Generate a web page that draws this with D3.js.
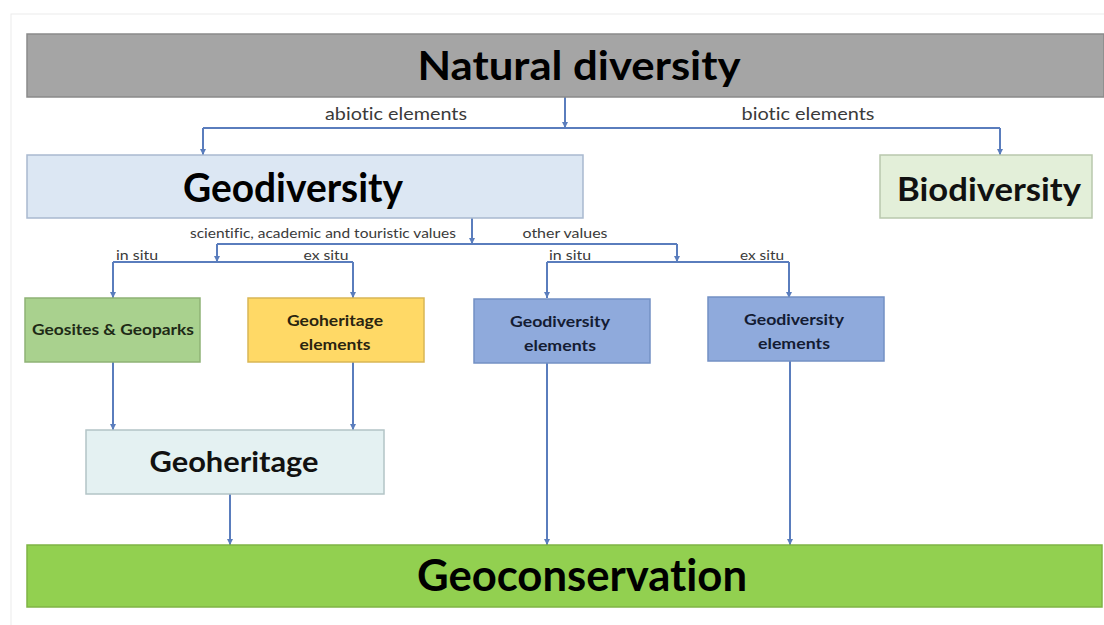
<!DOCTYPE html>
<html>
<head>
<meta charset="utf-8">
<script src="https://cdn.jsdelivr.net/npm/d3@7"></script>
<style>
  html, body { margin: 0; padding: 0; background: #fff; }
  svg { display: block; }
  text { font-variant-ligatures: none; font-feature-settings: "liga" 0, "dlig" 0; }
</style>
</head>
<body>
<div id="chart"></div>
<script>
// Node labels (one line per entry)
const nodeIds = ["nature", "geo", "bio", "sites", "herElem", "divIn", "divEx", "heritage", "conserv"];
const nodeLabels = [
    ["Natural diversity"],
    ["Geodiversity"],
    ["Biodiversity"],
    ["Geosites & Geoparks"],
    ["Geoheritage", "elements"],
    ["Geodiversity", "elements"],
    ["Geodiversity", "elements"],
    ["Geoheritage"],
    ["Geoconservation"]
];

// Branch connectors: parent -> children, with the labels on each branch
const branchParents = ["nature", "geo", "geoSci", "geoOther"];
const branchChildren = [["geo", "bio"], ["geoSci", "geoOther"], ["sites", "herElem"], ["divIn", "divEx"]];
const branchLabels = [
    ["abiotic elements", "biotic elements"],
    ["scientific, academic and touristic values", "other values"],
    ["in situ", "ex situ"],
    ["in situ", "ex situ"]
];

// Straight flows into the lower boxes
const flowSources = ["sites", "herElem", "heritage", "divIn", "divEx"];
const flowTargets = ["heritage", "heritage", "conserv", "conserv", "conserv"];

// ---- layout (pixels) ----
const width = 1104, height = 625;
// tx: text centre, ty: vertical nudge, tl: text lengths per line
const layout = {
    nature:   { x: 27,  y: 34,  w: 1077, h: 63, fill: "#a5a5a5", stroke: "#8a8a8a", size: 40, color: "#000", tx: 579, ty: 0, tl: [323] },
    geo:      { x: 27,  y: 155, w: 556,  h: 63, fill: "#dce7f3", stroke: "#a9b9cf", size: 41, color: "#000", tx: 293, ty: 1, tl: [220] },
    bio:      { x: 880, y: 155, w: 212,  h: 63, fill: "#e3efd9", stroke: "#b9c8ad", size: 33, color: "#111", tx: 989, ty: 3, tl: [184] },
    sites:    { x: 25,  y: 298, w: 175,  h: 64, fill: "#a9d18e", stroke: "#8fb275", size: 15, color: "#1e2a16", tx: 113, ty: 0, tl: [162] },
    herElem:  { x: 248, y: 298, w: 176,  h: 64, fill: "#ffd966", stroke: "#d9b655", size: 15, color: "#2a2410", tx: 335, ty: 3, tl: [96, 71] },
    divIn:    { x: 474, y: 299, w: 176,  h: 64, fill: "#8faadc", stroke: "#7390c4", size: 15, color: "#141c33", tx: 560, ty: 3, tl: [100, 72] },
    divEx:    { x: 708, y: 297, w: 176,  h: 64, fill: "#8faadc", stroke: "#7390c4", size: 15, color: "#141c33", tx: 794, ty: 3, tl: [100, 72] },
    heritage: { x: 86,  y: 430, w: 298,  h: 64, fill: "#e4f1f2", stroke: "#b3c4c6", size: 28, color: "#111", tx: 234, ty: 0, tl: [169] },
    conserv:  { x: 27,  y: 545, w: 1075, h: 62, fill: "#92d050", stroke: "#7fb444", size: 43, color: "#000", tx: 582, ty: 0, tl: [330] }
};
// branch geometry: stem x, bar y, child drop x's, drop end y, label positions
const branchGeom = {
    nature:   { stemX: 565, barY: 128, drops: [203, 1000], endY: 155, labelY: 120, labelX: [396, 808], labelLen: [142, 133], size: 17 },
    geo:      { stemX: 472, barY: 244, drops: [217, 677],  endY: 262, labelY: 238, labelX: [323, 565], labelLen: [266, 85], size: 13 },
    geoSci:   { stemX: 217, barY: 262, drops: [113, 353],  endY: 298, labelY: 260, labelX: [137, 326], labelLen: [42, 45], size: 13 },
    geoOther: { stemX: 677, barY: 262, drops: [547, 789],  endY: 298, labelY: 260, labelX: [570, 762], labelLen: [42, 44], size: 13 }
};
const flowX = { "sites>heritage": 113, "herElem>heritage": 353, "heritage>conserv": 230, "divIn>conserv": 547, "divEx>conserv": 790 };

const lineColor = "#5a7dbd";
const font = "Lato, 'Open Sans', sans-serif";

const svg = d3.select("#chart").append("svg")
    .attr("width", width)
    .attr("height", height);

// faint slide edge
svg.append("rect")
    .attr("x", 11).attr("y", 14)
    .attr("width", width).attr("height", height)
    .attr("fill", "#fff")
    .attr("stroke", "#ececec");

svg.append("defs").append("marker")
    .attr("id", "arrow")
    .attr("viewBox", "0 0 10 10")
    .attr("refX", 10).attr("refY", 5)
    .attr("markerWidth", 3.2).attr("markerHeight", 3.2)
    .attr("orient", "auto")
    .append("path")
    .attr("d", "M0,0 L10,5 L0,10 z")
    .attr("fill", lineColor);

const lines = svg.append("g")
    .attr("fill", "none")
    .attr("stroke", lineColor)
    .attr("stroke-width", 2);

// branch connectors
branchParents.forEach((p, i) => {
    const g = branchGeom[p];
    if (layout[p]) {
        lines.append("line")
            .attr("x1", g.stemX).attr("y1", layout[p].y + layout[p].h)
            .attr("x2", g.stemX).attr("y2", g.barY)
            .attr("marker-end", "url(#arrow)");
    }
    lines.append("line")
        .attr("x1", d3.min(g.drops)).attr("y1", g.barY)
        .attr("x2", d3.max(g.drops)).attr("y2", g.barY);
    branchChildren[i].forEach((c, j) => {
        lines.append("line")
            .attr("x1", g.drops[j]).attr("y1", g.barY)
            .attr("x2", g.drops[j]).attr("y2", g.endY)
            .attr("marker-end", "url(#arrow)");
        svg.append("text")
            .attr("x", g.labelX[j])
            .attr("y", g.labelY)
            .attr("text-anchor", "middle")
            .attr("font-family", font)
            .attr("font-size", g.size)
            .attr("fill", "#3a3a3a")
            .attr("textLength", g.labelLen[j])
            .attr("lengthAdjust", "spacingAndGlyphs")
            .text(branchLabels[i][j]);
    });
});

// straight flows
flowSources.forEach((s, i) => {
    const t = flowTargets[i];
    const x = flowX[s + ">" + t];
    lines.append("line")
        .attr("x1", x).attr("y1", layout[s].y + layout[s].h)
        .attr("x2", x).attr("y2", layout[t].y)
        .attr("marker-end", "url(#arrow)");
});

// boxes
const nodes = nodeIds.map((id, i) => Object.assign({ id, lines: nodeLabels[i] }, layout[id]));

const node = svg.append("g")
    .selectAll("g")
    .data(nodes)
    .join("g")
    .attr("transform", d => `translate(${d.x},${d.y})`);

node.append("rect")
    .attr("width", d => d.w)
    .attr("height", d => d.h)
    .attr("fill", d => d.fill)
    .attr("stroke", d => d.stroke)
    .attr("stroke-width", 1.5);

node.each(function (d) {
    const n = d.lines.length;
    const lh = 24;
    d.lines.forEach((line, k) => {
        d3.select(this).append("text")
            .attr("x", d.tx - d.x)
            .attr("y", d.h / 2 + (k - (n - 1) / 2) * lh + d.ty)
            .attr("dy", "0.35em")
            .attr("text-anchor", "middle")
            .attr("font-family", font)
            .attr("font-weight", "bold")
            .attr("font-size", d.size)
            .attr("fill", d.color)
            .attr("textLength", d.tl[k])
            .attr("lengthAdjust", "spacingAndGlyphs")
            .text(line);
    });
});
</script>
</body>
</html>
